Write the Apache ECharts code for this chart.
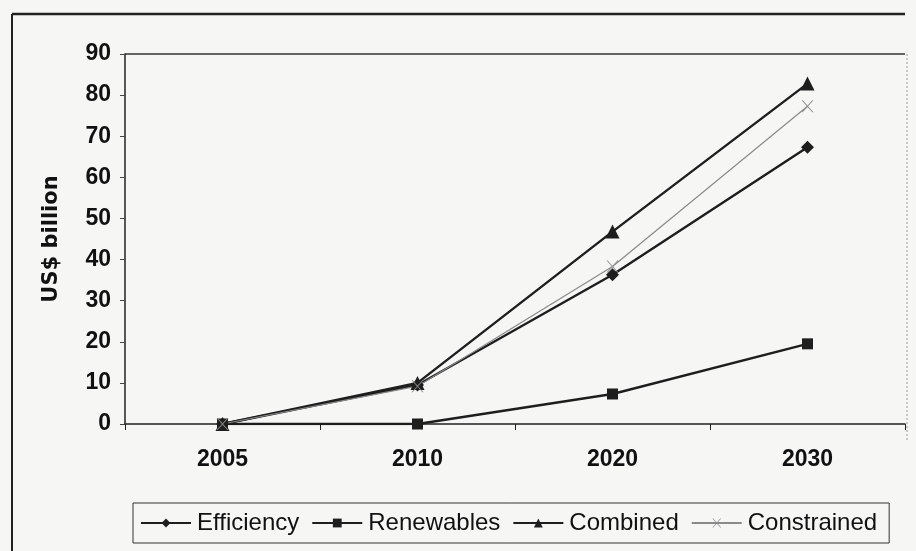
<!DOCTYPE html>
<html><head><meta charset="utf-8">
<script src="https://cdn.jsdelivr.net/npm/echarts@6/dist/echarts.min.js"></script>
<style>html,body{margin:0;padding:0;background:#f6f6f4}#c{width:916px;height:551px}</style>
</head><body><div id="c"></div>
<script>
var categories = ['2005', '2010', '2020', '2030'];
var efficiency = [0, 9.5, 36.3, 67.3];
var renewables = [0, 0, 7.3, 19.5];
var combined = [0, 10, 46.8, 82.8];
var constrained = [0, 9.2, 38.3, 77.3];
var yTicks = {min: 0, max: 90, interval: 10};

var xPath = 'path://M0,0 L2,0 L10,8 L18,0 L20,0 L11,9 L20,18 L18,18 L10,10 L2,18 L0,18 L9,9 Z';
var font = '"Liberation Sans Narrow", "Liberation Sans", Arial, sans-serif';
var chart = echarts.init(document.getElementById('c'));
function mk(name, data, symbol, size, color, width) {
  return {name: name, type: 'line', data: data, symbol: symbol, symbolSize: size,
    showSymbol: true, lineStyle: {color: color, width: width}, itemStyle: {color: color},
    animation: false, z: 3};
}
chart.setOption({
  backgroundColor: '#f6f6f4',
  animation: false,
  grid: {left: 125, right: 11, top: 54, bottom: 127, show: true, borderColor: 'transparent'},
  xAxis: {type: 'category', data: categories, boundaryGap: true,
    axisLine: {lineStyle: {color: '#222', width: 1.5}},
    axisTick: {show: true, length: 6, inside: false, lineStyle: {color: '#222'}},
    axisLabel: {color: '#111', fontFamily: font, fontSize: 23, fontWeight: 'bold', margin: 24}},
  yAxis: {type: 'value', min: yTicks.min, max: yTicks.max, interval: yTicks.interval,
    name: 'US$ billion', nameLocation: 'middle', nameGap: 63, nameRotate: 90,
    nameTextStyle: {color: '#111', fontFamily: '"DejaVu Sans", sans-serif', fontSize: 21, fontWeight: 'bold'},
    axisLine: {show: true, lineStyle: {color: '#222', width: 1.5}},
    axisTick: {show: true, length: 5, lineStyle: {color: '#444'}},
    axisLabel: {color: '#111', fontFamily: font, fontSize: 23, fontWeight: 'bold', margin: 14},
    splitLine: {show: false}},
  legend: {left: 133, top: 503, padding: [8, 12, 8, 7], itemGap: 12, itemWidth: 50, itemHeight: 11,
    borderColor: '#333', borderWidth: 1, backgroundColor: 'transparent',
    textStyle: {color: '#111', fontFamily: font, fontSize: 24, padding: [0, 0, 0, 1]},
    data: ['Efficiency', 'Renewables', 'Combined', 'Constrained']},
  graphic: [
    {type: 'line', shape: {x1: 12, y1: 14, x2: 905, y2: 14}, style: {stroke: '#222', lineWidth: 2.5}},
    {type: 'line', shape: {x1: 12, y1: 14, x2: 12, y2: 551}, style: {stroke: '#222', lineWidth: 2}},
    {type: 'line', shape: {x1: 125, y1: 54, x2: 905, y2: 54}, style: {stroke: '#333', lineWidth: 1.5}},
    {type: 'line', shape: {x1: 907, y1: 54, x2: 907, y2: 440}, style: {stroke: '#999', lineWidth: 1, lineDash: [2, 2]}}
  ],
  series: [
    mk('Efficiency', efficiency, 'diamond', 13, '#1e1e1e', 2.4),
    mk('Renewables', renewables, 'rect', 11, '#1e1e1e', 2.4),
    mk('Combined', combined, 'triangle', 14, '#1e1e1e', 2.4),
    mk('Constrained', constrained, xPath, 12, '#8a8a8a', 1.2)
  ]
});
</script></body></html>
